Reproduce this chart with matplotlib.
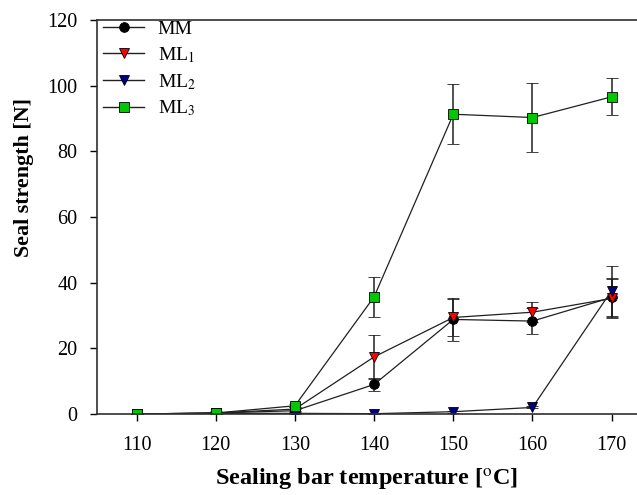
import matplotlib.pyplot as plt
from matplotlib.lines import Line2D

plt.rcParams['font.family'] = ['Liberation Serif', 'DejaVu Serif']
plt.rcParams['mathtext.fontset'] = 'stix'

# data
temps = [110, 120, 130, 140, 150, 160, 170]

mm = [0, 0.3, 1.0, 9.0, 28.8, 28.3, 35.5]
mm_err = [0, 0.3, 0.5, 2.0, 6.5, 4.0, 6.0]

ml1 = [0, 0.3, 1.5, 17.4, 29.4, 31.0, 35.2]
ml1_err = [0, 0.3, 0.5, 6.6, 5.5, 3.0, 6.0]

ml2 = [0, 0.2, 0.2, 0.1, 0.7, 2.0, 37.6]
ml2_err = [0, 0.1, 0.1, 0.2, 0.3, 0.3, 7.6]

ml3 = [0, 0.3, 2.5, 35.7, 91.3, 90.3, 96.6]
ml3_err = [0, 0.5, 0.5, 6.1, 9.2, 10.4, 5.6]

series = [
    ('MM', mm, mm_err, 'o', 'black'),
    ('ML$_1$', ml1, ml1_err, 'v', 'red'),
    ('ML$_2$', ml2, ml2_err, 'v', '#000080'),
    ('ML$_3$', ml3, ml3_err, 's', '#00c800'),
]

fig = plt.figure(figsize=(6.37, 4.95), dpi=100)
ax = fig.add_axes([97 / 637, 81 / 495, 540 / 637, 394 / 495])

handles = []
for name, vals, errs, mk, col in series:
    ax.errorbar(temps, vals, yerr=errs, color='#202020', lw=0.9,
                ecolor='#202020', elinewidth=1.1, capsize=4, capthick=1.1,
                marker=mk, markersize=7, markerfacecolor=col,
                markeredgecolor='black', markeredgewidth=0.6)
    handles.append(Line2D([], [], color='#202020', lw=1.0, marker=mk,
                          markersize=7, markerfacecolor=col,
                          markeredgecolor='black', markeredgewidth=0.6,
                          label=name))

ax.set_xlim(105, 173.2)
ax.set_ylim(0, 120)
ax.set_xticks(temps)
ax.set_yticks(range(0, 121, 20))
ax.tick_params(direction='out', labelsize=14.5, length=5, width=1)
ax.tick_params(axis='x', pad=11)
ax.tick_params(axis='y', pad=9)
ax.spines['right'].set_visible(False)
for s in ['left', 'bottom', 'top']:
    ax.spines[s].set_linewidth(1.2)
    ax.spines[s].set_color('#303030')

ax.set_xlabel('Sealing bar temperature [$^{\\mathrm{o}}$C]', fontsize=17.5,
              fontweight='bold')
ax.xaxis.set_label_coords(0.5, -0.135)
ax.set_ylabel('Seal strength [N]', fontsize=15.8, fontweight='bold')
ax.yaxis.set_label_coords(-0.116, 0.6)

ax.legend(handles=handles, loc='upper left', bbox_to_anchor=(0.006, 1.006),
          frameon=False, fontsize=14, handlelength=2.1, borderaxespad=0.0,
          borderpad=0.15, labelspacing=0.36, handletextpad=0.7)

fig.savefig('out.png', dpi=100)
